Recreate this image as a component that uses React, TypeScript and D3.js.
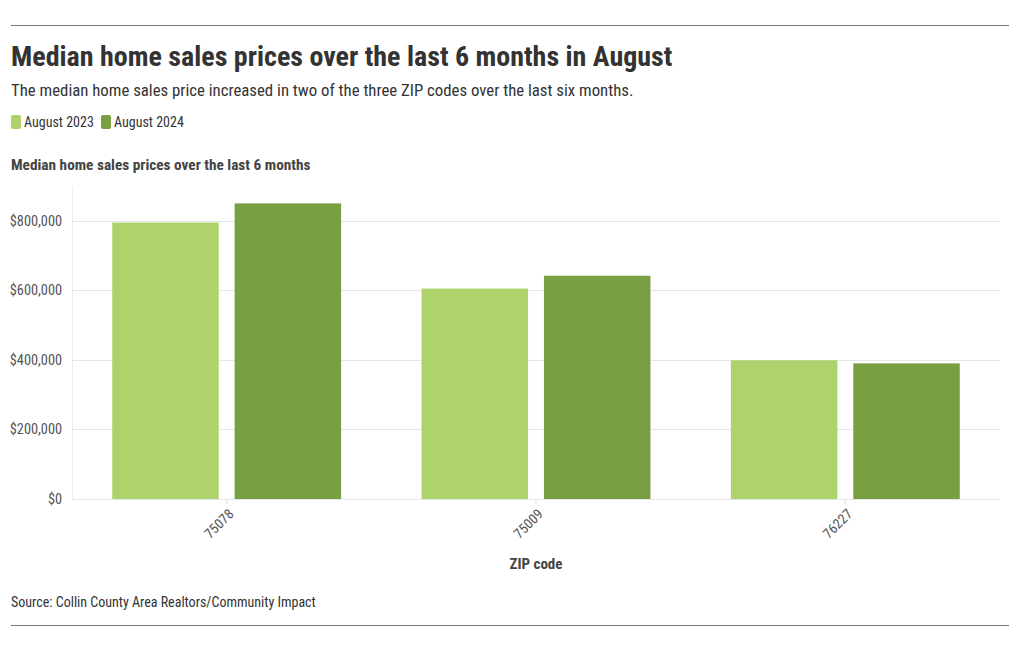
import React from "react";
import * as d3 from "d3";

const categories = ["75078", "75009", "76227"];
const seriesNames = ["August 2023", "August 2024"];
const august2023 = [795000, 605000, 399000];
const august2024 = [850000, 642000, 390000];
const yTicks = [0, 200000, 400000, 600000, 800000];
const colors = ["#aed36c", "#78a042"];

const FONT = "'Roboto Condensed', 'Liberation Sans Narrow', 'DejaVu Sans Condensed', Roboto, sans-serif";

export default function App() {
  const W = 1020, H = 650;
  const left = 72, right = 1000, top = 186, bottom = 499;
  const x0 = d3.scaleBand<string>().domain(categories).range([left, right]).paddingInner(0.26).paddingOuter(0.13);
  const x1 = d3.scaleBand<string>().domain(seriesNames).range([0, x0.bandwidth()]).paddingInner(0.13).paddingOuter(0);
  const y = d3.scaleLinear().domain([0, 900000]).range([bottom, top]);
  const fmt = (v: number) => "$" + d3.format(",")(v);
  const values = [august2023, august2024];
  return (
    <svg width={W} height={H} style={{ position: "absolute", left: 0, top: 0, background: "#fff" }} fontFamily={FONT}>
      <line x1={11} x2={1009} y1={25.5} y2={25.5} stroke="#777" strokeWidth={1} />
      <text x={11} y={66} fontSize={28} fontWeight={700} fill="#333">Median home sales prices over the last 6 months in August</text>
      <text x={11} y={96} fontSize={16.8} fill="#333">The median home sales price increased in two of the three ZIP codes over the last six months.</text>
      {seriesNames.map((s, i) => {
        const lx = i === 0 ? 11 : 101;
        return (
          <g key={s}>
            <rect x={lx} y={115} width={10} height={14} rx={2} fill={colors[i]} />
            <text x={lx + 13} y={127} fontSize={14} fill="#333">{s}</text>
          </g>
        );
      })}
      <text x={11} y={170} fontSize={15.3} fontWeight={700} fill="#444">Median home sales prices over the last 6 months</text>
      {yTicks.map((t) => (
        <g key={t}>
          <line x1={left} x2={right} y1={Math.round(y(t)) + 0.5} y2={Math.round(y(t)) + 0.5} stroke="#e6e6e6" />
          <text x={62} y={y(t)} dy="0.35em" textAnchor="end" fontSize={14.3} fill="#555">{fmt(t)}</text>
        </g>
      ))}
      <line x1={left + 0.5} x2={left + 0.5} y1={top} y2={bottom} stroke="#eee" />
      {categories.map((c, ci) => (
        <g key={c} transform={`translate(${x0(c)},0)`}>
          {seriesNames.map((s, si) => (
            <rect key={s} x={x1(s)} y={y(values[si][ci])} width={x1.bandwidth()} height={bottom - y(values[si][ci])} fill={colors[si]} />
          ))}
        </g>
      ))}
      {categories.map((c) => {
        const cx = (x0(c) as number) + x0.bandwidth() / 2;
        return (
          <g key={c}>
            <line x1={cx} x2={cx} y1={bottom} y2={bottom + 5} stroke="#ddd" />
            <text transform={`translate(${cx + 1},${bottom + 9}) rotate(-45)`} textAnchor="end" dy="0.7em" fontSize={14} fill="#555">{c}</text>
          </g>
        );
      })}
      <text x={(left + right) / 2} y={569} textAnchor="middle" fontSize={15} fontWeight={700} fill="#444">ZIP code</text>
      <text x={11} y={607} fontSize={14} fill="#333">Source: Collin County Area Realtors/Community Impact</text>
      <line x1={11} x2={1009} y1={625.5} y2={625.5} stroke="#777" strokeWidth={1} />
    </svg>
  );
}
